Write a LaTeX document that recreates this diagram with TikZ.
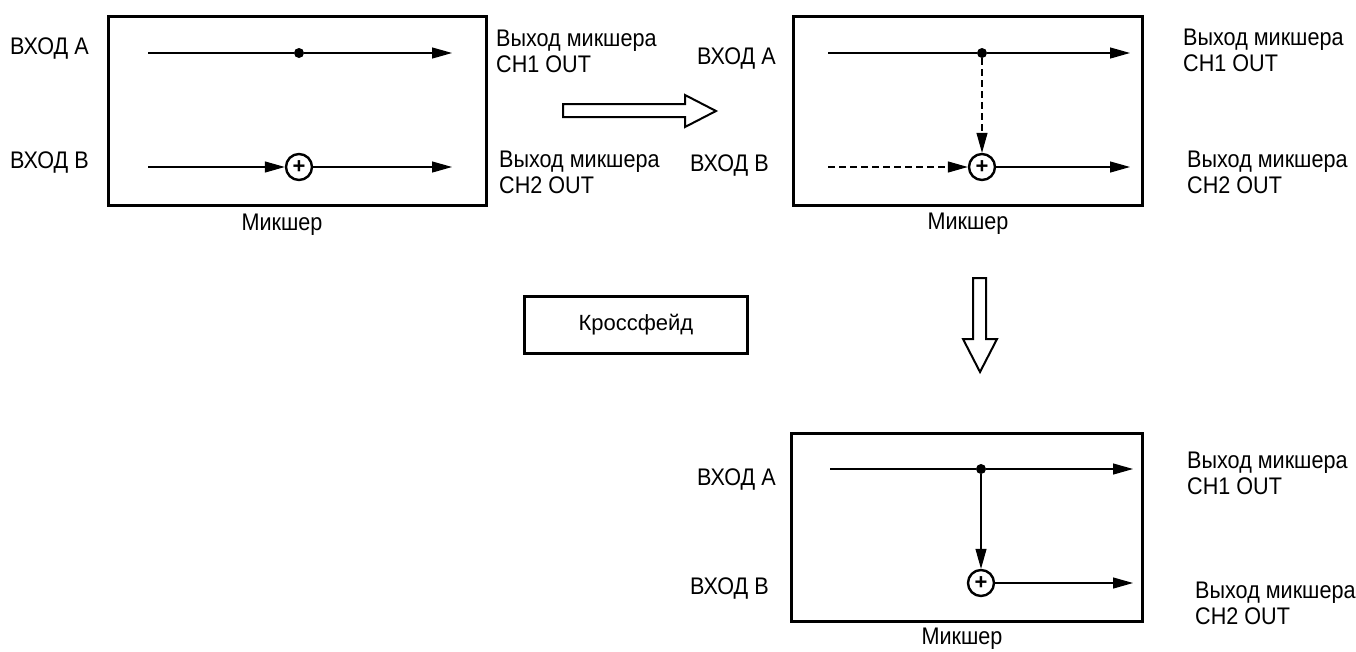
\documentclass[tikz,border=0pt]{standalone}
\usepackage{fontspec}
\setmainfont{Liberation Sans}
\newfontfamily\narrowsans{Liberation Sans}[FakeStretch=0.9]
\usetikzlibrary{arrows.meta}
\begin{document}
\begin{tikzpicture}[x=1pt,y=-1pt,
  txt/.style={font=\narrowsans\fontsize{24}{26}\selectfont, inner sep=0pt, anchor=base west},
  ctxt/.style={txt, anchor=base},
  frame/.style={draw, line width=2.8pt},
  sig/.style={line width=1.2pt},
  tip/.style={-{Triangle[length=20pt,width=11pt]}},
  sumnode/.style={circle, draw, line width=2.4pt, minimum size=26pt, inner sep=0pt,
    font=\fontsize{22}{22}\selectfont\bfseries},
  dotnode/.style={circle, fill, minimum size=10pt, inner sep=0pt},
  hollow/.style={draw, line width=2pt, fill=white, line join=miter}
]
\useasboundingbox (0,0) rectangle (1356,651);

% ---------- mixer 1: straight through ----------
\node[frame, minimum width=378pt, minimum height=189pt, anchor=north west] (m1) at (107,15) {};
\coordinate (a1in) at (148,53);
\coordinate (a1out) at (452,53);
\node[dotnode] (d1) at (299,53) {};
\coordinate (b1in) at (148,167);
\node[sumnode] (s1) at (299,167) {+};
\coordinate (b1out) at (452,167);
\draw[sig] (a1in) -- (d1);
\draw[sig,tip] (d1) -- (a1out);
\draw[sig,tip] (b1in) -- (s1);
\draw[sig,tip] (s1) -- (b1out);
\node[txt] (ia1) at (10,54) {ВХОД А};
\node[txt] (ib1) at (10,168) {ВХОД В};
\node[txt] (oa1) at (496,46) {Выход микшера};
\node[txt] (oa1b) at (496,72) {CH1 OUT};
\node[txt] (ob1) at (499,167) {Выход микшера};
\node[txt] (ob1b) at (499,193) {CH2 OUT};
\node[ctxt] (n1) at (282,230) {Микшер};

% ---------- transition arrow to the right ----------
\draw[hollow] (563,104) -- (685,104) -- (685,95) -- (716,111) -- (685,127) -- (685,117) -- (563,117) -- cycle;

% ---------- mixer 2: crossfade in progress ----------
\node[frame, minimum width=349pt, minimum height=189pt, anchor=north west] (m2) at (792,15) {};
\coordinate (a2in) at (828,53);
\coordinate (a2out) at (1130,53);
\node[dotnode] (d2) at (982,53) {};
\coordinate (b2in) at (828,167);
\node[sumnode] (s2) at (982,167) {+};
\coordinate (b2out) at (1130,167);
\draw[sig] (a2in) -- (d2);
\draw[sig,tip] (d2) -- (a2out);
\draw[sig,tip,dash pattern=on 7pt off 4pt] (d2) -- (s2);
\draw[sig,tip,dash pattern=on 7pt off 4pt] (b2in) -- (s2);
\draw[sig,tip] (s2) -- (b2out);
\node[txt] (ia2) at (697,64) {ВХОД А};
\node[txt] (ib2) at (690,171) {ВХОД В};
\node[txt] (oa2) at (1183,45) {Выход микшера};
\node[txt] (oa2b) at (1183,71) {CH1 OUT};
\node[txt] (ob2) at (1187,167) {Выход микшера};
\node[txt] (ob2b) at (1187,193) {CH2 OUT};
\node[ctxt] (n2) at (968,229) {Микшер};

% ---------- crossfade button ----------
\node[frame, minimum width=223pt, minimum height=57pt, anchor=north west] (cf) at (523,295) {};
\node[font=\fontsize{22}{24}\selectfont, inner sep=0pt] (cft) at (cf.center) {Кроссфейд};

% ---------- transition arrow downward ----------
\draw[hollow] (973,278) -- (986,278) -- (986,339) -- (997,339) -- (980,372) -- (963,339) -- (973,339) -- cycle;

% ---------- mixer 3: crossfade complete ----------
\node[frame, minimum width=351pt, minimum height=188pt, anchor=north west] (m3) at (790,432) {};
\coordinate (a3in) at (830,469);
\coordinate (a3out) at (1133,469);
\node[dotnode] (d3) at (981,469) {};
\node[sumnode] (s3) at (981,583) {+};
\coordinate (b3out) at (1133,583);
\draw[sig] (a3in) -- (d3);
\draw[sig,tip] (d3) -- (a3out);
\draw[sig,tip] (d3) -- (s3);
\draw[sig,tip] (s3) -- (b3out);
\node[txt] (ia3) at (697,485) {ВХОД А};
\node[txt] (ib3) at (690,594) {ВХОД В};
\node[txt] (oa3) at (1187,468) {Выход микшера};
\node[txt] (oa3b) at (1187,494) {CH1 OUT};
\node[txt] (ob3) at (1195,598) {Выход микшера};
\node[txt] (ob3b) at (1195,624) {CH2 OUT};
\node[ctxt] (n3) at (962,644) {Микшер};
\end{tikzpicture}
\end{document}
